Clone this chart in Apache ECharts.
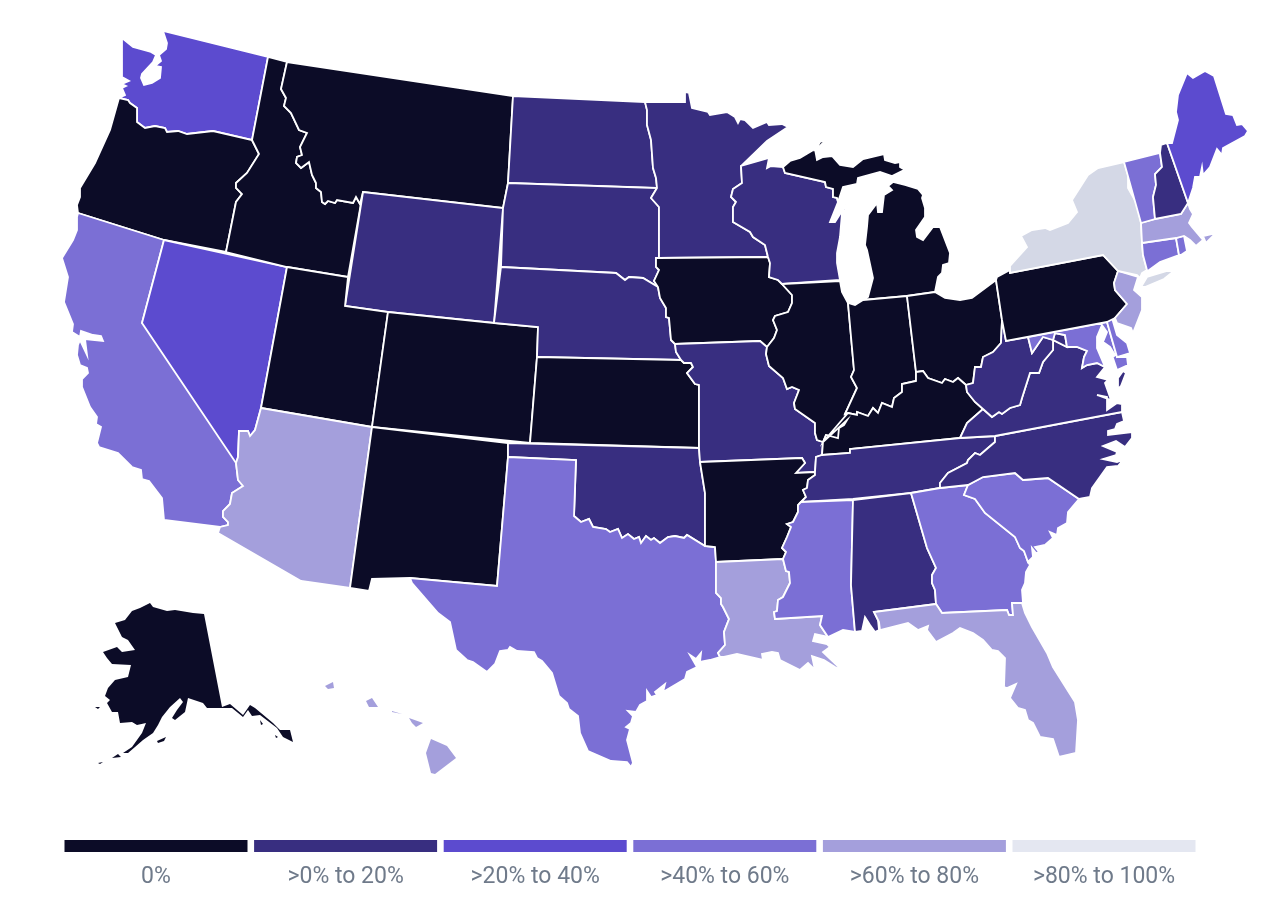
<!DOCTYPE html>
<html>
<head>
<meta charset="utf-8">
<title>US states map</title>
<style>
  html, body { margin: 0; padding: 0; background: #fff; }
  #chart { width: 1266px; height: 902px; }
</style>
<script src="https://cdn.jsdelivr.net/npm/echarts@6/dist/echarts.min.js"></script>
</head>
<body>
<div id="chart"></div>
<script>
// category of each state, 0 = 0% ... 5 = >80% to 100%
var stateNames = ['WA','OR','CA','NV','ID','MT','WY','UT','AZ','CO','NM','ND','SD','NE','KS','OK','TX','MN','IA','MO','AR','LA','WI','IL','MI','IN','OH','KY','TN','MS','AL','GA','FL','SC','NC','VA','WV','MD','DE','PA','NJ','NY','CT','RI','MA','VT','NH','ME','AK','HI'];
var stateBins = [2,0,3,2,0,0,1,0,4,0,0,1,1,1,0,1,3,1,0,1,0,4,1,0,0,0,0,0,1,3,1,3,4,3,1,1,1,3,3,0,4,5,3,3,4,3,1,2,0,4];
var binLabels = ['0%','>0% to 20%','>20% to 40%','>40% to 60%','>60% to 80%','>80% to 100%'];
var legendSpan = [1,1,1,1,1,1];
var mapColors = ['#0C0C27','#382E80','#5C4BCF','#7B6FD5','#A49FDC','#D4D8E6'];
var legendColors = ['#0C0C27','#382E80','#5C4BCF','#7B6FD5','#A49FDC','#E4E7F1'];
// island groups, too fine to carry a white outline
var noOutline = ['AK','HI'];

// shared borders, flat x,y lists in the picture's units
var B = {
    waOr: [252,140,213,131,187,134,178,131,167,132,165,128,155,126,145,128,137,122,137,108,130,103,128,100,119,98],
    orId: [252,140,259,154,247,173,236,183,236,188,242,194,236,202,226,252],
    idMt: [287,62,281,89,286,98,284,106,291,113,299,130,307,133,300,147,302,155,297,157,296,163,301,168,309,162,312,175,316,183,316,188,321,192,322,202,325,204,328,201,335,203,337,200,353,203,356,197,360,204],
    nvAz: [261,408,255,430,250,436,248,431,239,431,238,457,236,463],
    caAz: [236,463,238,480,243,486,232,493,230,504,223,511,223,517,228,522,228,525,220,527],
    ndMn: [645,102,647,110,647,125,651,140,653,168,656,178,657,188],
    sdMn: [657,188,651,198,659,207,659,258],
    sdIa: [659,258,656,258,656,267,659,270,654,281,658,287],
    sdNe: [658,287,643,278,629,277,625,280,616,273,501,267],
    neIa: [658,287,660,298,666,308,666,317,669,318,671,340,675,344],
    neMo: [675,344,676,352,681,360],
    ksMo: [681,360,684,363,691,363,693,367,687,373,695,384,699,385,699,448],
    okTx: [705,546,687,535,684,538,675,536,668,537,660,543,654,538,651,540,646,536,641,543,639,537,634,539,628,534,622,538,618,529,610,532,606,529,593,527,589,519,581,522,574,516,576,460,508,457],
    arTx: [705,546,715,547,716,562],
    txLa: [716,562,716,593,721,598,721,604,723,607,729,619,724,632,725,645,718,653,720,657],
    mnWi: [741,166,742,183,733,189,731,197,736,202,733,207,733,222,750,232,753,237,765,245,768,257],
    wiIa: [768,257,770,263,769,277,778,280,782,284],
    wiUp: [783,167,785,173,825,182,826,187,833,189,833,197,837,198,838,202],
    iaIl: [767,347,774,338,777,330,773,320,775,316,788,312,792,303,792,295,782,284],
    ilMo: [823,442,817,440,815,433,815,423,795,409,794,403,799,390,792,387,787,389,783,378,769,366,766,354,767,347],
    ilIn: [848,303,854,370,851,377,857,388,845,414],
    ilKy: [845,414,847,420,844,425,839,428,838,438,826,435,823,442],
    inKy: [848,413,857,415,857,412,868,416,873,408,878,413,882,403,892,407,894,398,902,392,902,384,916,381,916,372],
    inOh: [907,296,916,372],
    kyOh: [916,372,923,371,928,378,942,383,945,379,953,382,958,378,966,385],
    kyWv: [966,385,967,392,975,402,983,409],
    kyVa: [983,409,967,423,960,438],
    kyTn: [823,442,822,455,850,453,850,449,960,438],
    moAr: [815,472,796,473,805,463,802,458,700,462],
    arTn: [815,472,815,475,808,480,807,488,803,490,806,497,801,502],
    arMs: [801,502,798,505,798,512,793,522,787,524,791,527,787,537,782,548,786,552,783,559],
    laMs: [783,559,786,571,789,572,790,583,783,597,778,600,777,611,774,612,775,619,822,616,820,625,828,637],
    alGa: [911,493,927,548,936,568,932,575,932,583,935,590,936,604],
    gaFl: [936,604,942,613,1007,610,1009,615,1013,615,1012,603,1022,603],
    gaSc: [968,485,964,495,975,499,985,513,1015,537,1020,548,1024,551,1028,562],
    tnNc: [995,436,995,442,988,448,980,455,975,453,968,460,967,463,948,473,940,483,940,488],
    ncSc: [1079,499,1048,478,1023,480,1015,473,983,477,968,485],
    ohWv: [1002,320,1001,343,993,352,983,357,981,367,975,367,973,383,966,385],
    wvVa: [983,409,992,417,999,412,1002,414,1010,408,1020,405,1022,398,1030,373,1039,373,1043,362,1053,350,1053,340,1067,347],
    mdVa: [1067,347,1077,347,1087,351,1084,357,1082,368,1087,365,1097,363,1105,367],
    wvMd: [1006,341,1028,337,1032,353,1043,337,1053,340,1055,333,1065,335,1067,347],
    paNj: [1118,271,1114,283,1115,290,1127,304,1115,318],
    nyPa: [1010,273,1103,255,1118,271],
    nyVt: [1124,162,1128,175,1128,188,1137,204,1141,223],
    nyMa: [1141,223,1142,243],
    nyCt: [1142,243,1143,255,1147,270],
    vtNh: [1160,153,1162,167,1155,174,1156,185,1153,197,1155,219],
    nhMe: [1167,143,1188,203],
    nhMa: [1155,219,1181,214,1188,203],
    vtMa: [1141,223,1155,219],
    maCt: [1142,243,1176,238],
    maRi: [1176,238,1184,236]
};

function pairs(flat) {
    var out = [];
    for (var i = 0; i < flat.length; i += 2) {
        out.push([flat[i], -flat[i + 1]]);
    }
    return out;
}
function rev(flat) {
    var out = [];
    for (var i = flat.length - 2; i >= 0; i -= 2) {
        out.push(flat[i], flat[i + 1]);
    }
    return out;
}
function ring() {
    var flat = [];
    for (var i = 0; i < arguments.length; i++) {
        flat = flat.concat(arguments[i]);
    }
    var pts = pairs(flat);
    pts.push(pts[0]);
    return [pts];
}

var shapes = {
    WA: [ring([163,31,268,57], B.waOr, [125,95,122,88,126,86,122,84,129,81,122,77,122,38,133,47,151,52,156,55,153,62,142,74,141,78,144,85,152,83,160,78,161,67,155,66,161,61,159,55,166,49,167,43])],
    OR: [ring(rev(B.waOr), B.orId, [164,240,78,213,77,205,80,197,80,188,95,163,110,130])],
    CA: [ring([78,213,164,240,142,323], rev(B.nvAz).slice(-2), B.caAz, [164,520,162,498,149,481,142,479,141,470,132,467,118,453,99,447,97,443,101,427,96,424,97,417,90,407,82,387,82,379,88,373,87,368,80,365,77,355,78,345,80,340,87,355,85,339,103,341,101,336,93,335,81,331,80,337,72,332,73,324,64,302,68,277,62,258,73,240,77,230,77,217])],
    NV: [ring([164,240,287,267], B.nvAz, [142,323])],
    ID: [ring([268,57,287,62], B.idMt, [363,192,348,277,287,267,226,252], rev(B.orId))],
    MT: [ring([287,62,513,96,508,183,503,208,363,192], rev(B.idMt))],
    WY: [ring([363,192,503,208,494,323,388,312,345,306])],
    UT: [ring([287,267,348,277,345,306,388,312,372,427,261,408])],
    AZ: [ring([261,408,372,427,350,588,301,581,218,533], rev(B.caAz), rev(B.nvAz).slice(2))],
    CO: [ring([388,312,494,323,538,327,537,357,530,443,372,427])],
    NM: [ring([372,427,508,443,508,457,497,586,410,578,372,579,369,591,350,588])],
    ND: [ring([513,96], B.ndMn, [508,183])],
    SD: [ring([508,183], B.sdMn, B.sdIa, B.sdNe, [503,208])],
    NE: [ring([501,267], rev(B.sdNe), B.neIa, B.neMo, [537,357,538,327,494,323])],
    KS: [ring([537,357], rev(B.neMo).slice(0, 2), B.ksMo, [530,443])],
    OK: [ring([508,443,699,448,700,462,705,493], [705,546], B.okTx.slice(2))],
    TX: [ring(rev(B.okTx), B.arTx, B.txLa, [710,660,700,662,701,653,696,659,690,655,697,667,687,672,685,679,663,692,665,684,655,692,657,695,651,697,647,691,647,701,640,705,636,712,628,711,633,716,631,723,626,727,630,729,627,740,633,763,631,767,627,762,611,761,588,751,580,733,578,716,569,709,567,703,559,696,552,673,542,661,537,658,534,652,517,651,510,647,508,650,500,651,495,664,487,672,473,662,467,660,456,650,450,622,438,613,412,583,410,578,497,586])],
    MN: [ring([645,102,685,102,685,92,689,93,692,108,708,112,710,115,727,112,735,117,738,123,740,119,745,120,753,128,767,122,769,125,782,124,788,127,767,141], B.mnWi, rev(B.sdMn), rev(B.ndMn).slice(2))],
    IA: [ring([659,258,768,257], B.wiIa.slice(2), rev(B.iaIl).slice(2), [760,341], rev(B.neIa), rev(B.sdIa).slice(2))],
    MO: [ring([675,344,760,341], rev(B.ilMo), [822,455,816,457,815,472], B.moAr, [699,448], rev(B.ksMo).slice(2), rev(B.neMo).slice(2, 4))],
    AR: [ring(rev(B.moAr), B.arTn, B.arMs, [716,562], rev(B.arTx).slice(2), [705,493])],
    LA: [ring([716,562,783,559], B.laMs.slice(2), [815,634,813,641,827,644,830,647,823,652,842,670,835,667,824,660,812,656,815,670,808,663,800,670,780,660,778,653,772,652,762,654,763,660,737,654,724,657], rev(B.txLa).slice(0, -2))],
    WI: [ring([741,166,769,158,767,168,771,166], B.wiUp, [830,222,835,222,847,203,845,210,842,213,840,237,837,253,837,263,840,280], rev(B.wiIa), rev(B.mnWi).slice(2))],
    IL: [ring([782,284,840,281,842,292], B.ilIn, B.ilKy, B.ilMo, B.iaIl.slice(2))],
    MI: [ring(B.wiUp, [843,187,857,184,858,178,880,172,892,176,902,171,905,170,900,167,900,162,895,163,885,160,884,154,863,159,853,167,840,165,832,156,823,157,817,160,815,149,800,158,790,161]),
         ring([816,149,820,142,826,140,819,147]),
         ring([911,169,915,170,916,172,913,171]),
         ring([893,182,905,185,918,189,923,195,922,198,925,208,925,217,916,230,917,237,923,240,933,227,940,227,950,253,949,263,943,265,942,273,938,277,935,292,907,296,863,300,868,297,873,278,867,250,865,245,867,227,868,215,877,203,878,212,882,212,884,195,892,190,888,186])],
    IN: [ring([848,303,855,305,863,300,907,296,916,372], rev(B.inKy), [845,414], rev(B.ilIn).slice(2))],
    OH: [ring([907,296,935,292,945,298,960,300,972,298,996,280,1002,320], B.ohWv.slice(2), rev(B.kyOh).slice(2))],
    KY: [ring(B.kyTn, [967,423,983,409], rev(B.kyWv).slice(2), rev(B.kyOh).slice(2), rev(B.inKy).slice(2), rev(B.ilKy).slice(0, -2))],
    TN: [ring([816,457,822,455,850,453,850,449,960,438], B.tnNc, [911,493,853,499,801,502], rev(B.arTn).slice(2))],
    MS: [ring([801,502,853,500,851,585,855,632,843,630], rev(B.laMs), rev(B.arMs).slice(2))],
    AL: [ring([853,500,911,493], B.alGa, [874,612,878,620,879,630,875,632,870,625,865,617,862,631,855,632,851,585])],
    GA: [ring([911,493,940,488,968,485], B.gaSc, [1030,565,1026,572,1025,583,1022,590,1023,603], rev(B.gaFl).slice(2), rev(B.alGa).slice(2))],
    FL: [ring([874,612], B.alGa.slice(-2), B.gaFl.slice(2), [1025,613,1032,627,1047,653,1053,667,1075,702,1078,720,1076,753,1059,757,1053,739,1040,737,1033,723,1028,720,1025,710,1018,708,1022,713,1010,698,1016,684,1007,688,1004,687,1005,658,998,651,992,650,983,640,973,633,960,628,953,633,936,642,927,630,928,626,918,630,908,623,880,630,879,622])],
    SC: [ring(rev(B.ncSc), [1068,512,1067,523,1058,528,1057,535,1050,532,1053,538,1045,545,1035,547,1039,552,1036,553,1032,548,1033,557,1028,562], rev(B.gaSc).slice(2))],
    NC: [ring([995,436,1122,412,1124,421,1117,424,1115,429,1108,431,1108,435,1132,432,1132,438,1125,447,1116,441,1103,446,1117,452,1116,455,1103,459,1117,462,1123,460,1118,466,1107,467,1092,488,1090,497], B.ncSc, [940,488], rev(B.tnNc).slice(2))],
    VA: [ring([960,438,967,423], B.wvVa, B.mdVa.slice(2), [1097,377,1108,380,1105,383,1111,400,1097,395,1107,397,1107,410,1117,403,1122,404,1122,412,995,436]),
         ring([1123,371,1126,373,1121,386,1118,389,1118,378])],
    WV: [ring([1002,320,1006,341], B.wvMd.slice(2), rev(B.wvVa).slice(2), rev(B.kyWv).slice(2), rev(B.ohWv).slice(2))],
    MD: [ring([1028,337,1107,322,1117,357,1127,357,1128,365,1117,370,1113,358,1107,363,1115,355,1110,347,1103,342,1107,332,1102,325,1097,337,1097,348,1105,367], rev(B.mdVa).slice(2), rev(B.wvMd).slice(2, -2))],
    DE: [ring([1107,322,1112,318,1117,335,1127,343,1130,353,1117,357])],
    PA: [ring([997,277,1010,270], B.nyPa, B.paNj.slice(2), [1107,322,1006,341,1002,320,996,280])],
    NJ: [ring([1118,271,1138,277,1134,290,1142,297,1142,310,1133,333,1131,328,1117,323], rev(B.paNj))],
    NY: [ring([1010,273,1010,266,1027,247,1021,236,1032,230,1045,228,1050,230,1068,223,1077,212,1072,200,1088,175,1098,168], B.nyVt, B.nyMa.slice(2), B.nyCt.slice(2), [1142,273,1140,278,1137,275,1118,271], rev(B.nyPa).slice(2)),
         ring([1141,287,1147,277,1167,271,1174,271,1164,279,1145,287])],
    CT: [ring(B.maCt, [1179,255,1160,262,1145,273,1147,270], rev(B.nyCt).slice(2))],
    RI: [ring(B.maRi, [1187,251,1181,255,1179,255])],
    MA: [ring(B.vtMa, B.nhMa.slice(2), [1190,209,1193,214,1189,223,1192,227,1203,240,1196,246,1190,240,1184,236], [1176,238,1142,243]),
         ring([1203,236,1216,233,1206,243])],
    VT: [ring([1124,162], B.vtNh, [1141,223])],
    NH: [ring([1160,153,1161,145], B.nhMe, rev(B.nhMa).slice(2), rev(B.vtNh).slice(2))],
    ME: [ring([1167,143,1172,143,1178,120,1176,112,1178,95,1187,73,1193,78,1205,71,1214,76,1226,114,1233,115,1237,125,1242,124,1248,131,1245,136,1223,148,1222,155,1217,149,1210,167,1203,175,1202,167,1200,177,1195,177,1193,188,1188,203])],
    AK: [ring([204,614,222,707,230,704,243,715,250,705,255,708,273,723,280,730,290,730,293,742,283,737,277,728,260,715,252,716,248,710,243,717,232,708,223,708,207,708,203,703,188,698,185,712,175,720,172,718,177,710,183,702,180,698,170,707,162,717,158,725,153,733,143,740,135,747,128,753,123,753,132,747,142,733,146,723,137,725,132,722,120,723,118,712,112,712,107,703,110,700,105,696,108,688,115,680,128,677,131,665,112,664,107,658,103,652,117,647,122,652,135,650,128,640,122,637,115,623,125,620,132,611,140,608,150,603,153,607,167,611,175,610,193,613]),
         ring([95,707,100,707,98,709]),
         ring([157,741,166,737,164,741,158,743]),
         ring([112,758,118,754,121,757]),
         ring([98,763,103,762,100,764]),
         ring([275,735,278,737,276,738]),
         ring([260,720,263,724,261,725])],
    HI: [ring([325,686,333,682,334,688,328,689]),
         ring([366,701,372,698,378,707,369,707]),
         ring([392,711,402,714,392,712]),
         ring([409,718,423,723,416,727,412,723]),
         ring([431,739,447,746,456,758,435,774,431,773,426,753])]
};

var features = [];
for (var i = 0; i < stateNames.length; i++) {
    features.push({
        type: 'Feature',
        properties: { name: stateNames[i] },
        geometry: { type: 'MultiPolygon', coordinates: shapes[stateNames[i]] }
    });
}
echarts.registerMap('usa', { type: 'FeatureCollection', features: features });

var mapData = [];
for (var j = 0; j < stateNames.length; j++) {
    var item = { name: stateNames[j], value: stateBins[j] };
    if (noOutline.indexOf(stateNames[j]) >= 0) {
        item.itemStyle = { borderWidth: 0 };
    }
    mapData.push(item);
}
var pieces = [];
for (var k = 0; k < mapColors.length; k++) {
    pieces.push({ value: k, color: mapColors[k] });
}
var legendData = [];
for (var m = 0; m < legendSpan.length; m++) {
    legendData.push({ value: legendSpan[m], itemStyle: { color: legendColors[m] } });
}

var chart = echarts.init(document.getElementById('chart'));
chart.setOption({
    animation: false,
    backgroundColor: '#fff',
    tooltip: { show: false },
    visualMap: {
        type: 'piecewise',
        show: false,
        seriesIndex: 0,
        pieces: pieces
    },
    grid: { left: 61.2, top: 840, width: 1137.6, height: 12 },
    xAxis: {
        type: 'category',
        data: binLabels,
        axisLine: { show: false },
        axisTick: { show: false },
        axisLabel: {
            interval: 0,
            margin: 14,
            color: '#6F7A8A',
            fontFamily: 'Roboto',
            fontSize: 23
        }
    },
    yAxis: { type: 'value', min: 0, max: 1, show: false },
    series: [
        {
            type: 'map',
            map: 'usa',
            left: 0,
            top: 0,
            width: 1266,
            height: 902,
            aspectScale: 1,
            boundingCoords: [[0, 0], [1266, -902]],
            roam: false,
            silent: true,
            label: { show: false },
            itemStyle: { borderColor: '#fff', borderWidth: 1.8 },
            emphasis: { disabled: true },
            select: { disabled: true },
            data: mapData
        },
        {
            type: 'bar',
            barWidth: 183,
            silent: true,
            data: legendData
        }
    ]
});
</script>
</body>
</html>
